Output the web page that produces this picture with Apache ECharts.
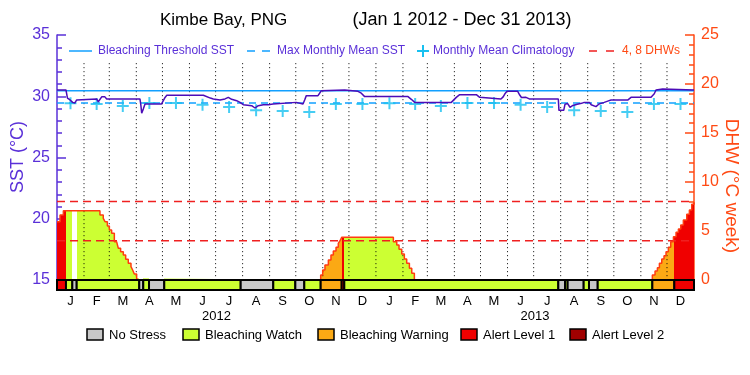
<!DOCTYPE html>
<html>
<head>
<meta charset="utf-8">
<script src="https://cdn.jsdelivr.net/npm/echarts@6/dist/echarts.min.js"></script>
<style>
html, body {margin: 0; padding: 0; background: #fff;}
#main {width: 750px; height: 375px;}
</style>
</head>
<body>
<div id="main"></div>
<script>
// x axis is days since Jan 1 2012 (731 days to Dec 31 2013)
var monthLetters = ['J', 'F', 'M', 'A', 'M', 'J', 'J', 'A', 'S', 'O', 'N', 'D'];
var monthLen2012 = [31, 29, 31, 30, 31, 30, 31, 31, 30, 31, 30, 31];
var monthLen2013 = [31, 28, 31, 30, 31, 30, 31, 31, 30, 31, 30, 31];
var years = ['2012', '2013'];

var mmm = 29.45;            // max monthly mean
var bleachThreshold = 30.45; // mmm + 1
var dhwLevels = [4, 8];

// monthly mean climatology (same each year)
var climatology = [29.42, 29.36, 29.2, 29.45, 29.45, 29.3, 29.12, 28.85, 28.8, 28.72, 29.37, 29.37];

// SST [day, degC]
var sst = [
    [0, 30.51], [10.3, 30.51], [12, 29.85], [15, 29.7], [18, 29.5], [20.5, 29.45], [22.6, 29.7], [24, 29.78],
    [45.5, 29.78], [47.4, 29.55], [49.3, 29.7], [51.3, 29.95], [55, 29.95], [57, 29.78], [95.2, 29.78],
    [96.2, 29.3], [97.2, 28.62], [99, 28.95], [101, 29.37], [120, 29.37], [124, 29.9], [126, 30.08],
    [168, 30.08], [170, 29.95], [176, 29.85], [179.4, 29.78], [181.3, 29.64], [187, 29.69], [192.8, 29.78],
    [196.6, 29.91], [200.4, 29.75], [206.2, 29.64], [210, 29.5], [213.8, 29.31], [223.4, 29.23], [227.2, 29.04],
    [231, 29.23], [236.8, 29.31], [242.5, 29.31], [247.9, 29.37], [249.8, 29.5], [274.6, 29.5], [276.6, 29.37],
    [282.3, 29.37], [284.2, 29.69], [286.1, 30.05], [299.5, 30.05], [301.4, 30.18], [303.3, 30.45], [305.3, 30.51],
    [330.1, 30.51], [332, 30.4], [345.4, 30.4], [349.2, 30.25], [353.1, 29.97], [402.8, 29.97], [406.6, 29.75],
    [410.5, 29.5], [452.5, 29.5], [454.4, 29.64], [458.2, 29.91], [462.1, 30.13], [481.2, 30.13], [485.1, 29.91],
    [487, 29.78], [509.5, 29.78], [512, 29.95], [514, 30.2], [516.4, 30.4], [528.7, 30.4], [531, 30.1],
    [533, 29.9], [534.4, 29.78], [538.2, 29.91], [542, 29.78], [575.3, 29.78], [576, 28.85], [581.5, 28.85],
    [583, 29.35], [586, 29.4], [588.7, 29.1], [592, 29.25], [597, 29.35], [602, 29.42], [605, 29.5], [611, 29.5],
    [613, 29.31], [618.5, 29.15], [622, 29.37], [628, 29.5], [632, 29.6], [635.8, 29.69], [654.9, 29.69],
    [658.7, 29.91], [660.6, 30.05], [662.5, 29.91], [681.7, 29.91], [685.4, 30.2], [687.4, 30.51], [689.3, 30.59],
    [695, 30.59], [697, 30.51], [731, 30.51]
];

// degree heating weeks [day, degC-week], held until next point
var dhw = [
    [0, 5.95], [3.5, 6.63], [7.3, 7.07], [49.3, 6.63], [53.1, 6.29], [55.1, 5.95], [57.8, 5.51], [60.1, 5.1],
    [62.7, 4.76], [65.8, 3.91], [68.4, 3.74], [70.4, 3.23], [73, 2.89], [76.1, 2.55], [78.8, 2.11], [81.8, 1.7],
    [84.9, 1.36], [86.8, 1.02], [88.7, 0.61], [91.4, 0.17], [92.6, 0],
    [302.6, 0.51], [304.9, 1.02], [307.5, 1.53], [311.4, 2.04], [314.4, 2.55], [317.1, 2.96], [320.2, 3.33],
    [322.8, 3.74], [324.8, 4.01], [326.7, 4.36], [386, 3.91], [389.9, 3.57], [392.5, 3.13], [395.6, 2.65],
    [398.6, 2.14], [401.3, 1.7], [404.4, 1.19], [407.1, 0.68], [410.1, 0],
    [683.2, 0.51], [686.3, 0.92], [689, 1.26], [691.3, 1.7], [694, 2.14], [696.6, 2.48], [698.9, 2.89],
    [701.6, 3.33], [704.3, 3.91], [707.4, 4.42], [710.4, 4.86], [713.1, 5.2], [715.8, 5.61], [718.8, 6.12],
    [722.7, 6.7], [725.7, 7.14], [728.4, 7.72], [731, 7.93]
];

// stress level periods [startDay, endDay, level]
var stress = [
    [0, 10.3, 3], [10.3, 17.6, 1], [17.6, 22.6, 0], [22.6, 94.4, 1], [94.4, 99, 0], [99, 105.6, 1],
    [105.6, 123.1, 0], [123.1, 210.8, 1], [210.8, 248.2, 0], [248.2, 273.5, 1], [273.5, 283.8, 0],
    [283.8, 302.6, 1], [302.6, 326.7, 2], [326.7, 329.7, 3], [329.7, 575.3, 1], [575.3, 583, 0],
    [583, 586, 1], [586, 604.4, 0], [604.4, 610.5, 1], [610.5, 620.5, 0], [620.5, 683.2, 1],
    [683.2, 708.4, 2], [708.4, 731, 3]
];
var stressNames = ['No Stress', 'Bleaching Watch', 'Bleaching Warning', 'Alert Level 1', 'Alert Level 2'];
var stressColors = ['#c8c8c8', '#ccff33', '#fba914', '#f00000', '#a00000'];

var purple = '#5a30d8';
var sstColor = '#4c0cb8';
var orange = '#ff4a14';
var font = 'Liberation Sans, Arial, sans-serif';

// month boundaries and centres
var monthStarts = [], monthMids = [], monthLabel = {};
var d = 0;
monthLen2012.concat(monthLen2013).forEach(function (len, i) {
    monthStarts.push(d);
    monthMids.push(d + len / 2);
    monthLabel[d + len / 2] = monthLetters[i % 12];
    d += len;
});
var yearMids = [366 / 2, 366 + 365 / 2];
var yearLabel = {};
yearLabel[yearMids[0]] = years[0];
yearLabel[yearMids[1]] = years[1];

// climatology crosses at mid-month
var climPoints = monthMids.map(function (m, i) {
    return [m, climatology[i % 12]];
});

// fill colours follow the stress level; no stress is left white
var pieces = stress.map(function (s) {
    return {gte: s[0], lt: s[1], color: s[2] === 0 ? '#ffffff' : stressColors[s[2]]};
});
pieces[pieces.length - 1].lte = 731;
delete pieces[pieces.length - 1].lt;

// split DHW into the runs above zero, one outline each
var dhwRuns = [];
var run = null;
dhw.forEach(function (p, i) {
    if (!run) {
        run = [];
        if (i > 0) run.push([p[0], 0]);
    }
    run.push(p);
    if (p[1] === 0) {
        dhwRuns.push(run);
        run = null;
    }
});
if (run) dhwRuns.push(run);

var chart = echarts.init(document.getElementById('main'));

var plusPath = 'path://M5,0h2v5h5v2h-5v5h-2v-5h-5v-2h5z';

var legendTop = [];
// legend inside the plot
legendTop.push({type: 'line', shape: {x1: 69, y1: 51, x2: 92, y2: 51}, style: {stroke: '#12a0ff', lineWidth: 1.5}});
legendTop.push({type: 'text', x: 98, y: 51, style: {text: 'Bleaching Threshold SST', fill: purple, font: '12px ' + font, verticalAlign: 'middle'}});
legendTop.push({type: 'line', shape: {x1: 247, y1: 51, x2: 270, y2: 51}, style: {stroke: '#12a0ff', lineWidth: 1.5, lineDash: [8, 7]}});
legendTop.push({type: 'text', x: 277, y: 51, style: {text: 'Max Monthly Mean SST', fill: purple, font: '12px ' + font, verticalAlign: 'middle'}});
legendTop.push({type: 'rect', shape: {x: 417, y: 50, width: 12, height: 2}, style: {fill: '#18c0f0'}});
legendTop.push({type: 'rect', shape: {x: 422, y: 45, width: 2, height: 12}, style: {fill: '#18c0f0'}});
legendTop.push({type: 'text', x: 433, y: 51, style: {text: 'Monthly Mean Climatology', fill: purple, font: '12px ' + font, verticalAlign: 'middle'}});
legendTop.push({type: 'line', shape: {x1: 589, y1: 51, x2: 614, y2: 51}, style: {stroke: '#f02020', lineWidth: 1.5, lineDash: [8, 9]}});
legendTop.push({type: 'text', x: 622, y: 51, style: {text: '4, 8 DHWs', fill: orange, font: '12px ' + font, verticalAlign: 'middle'}});

// stress legend below
var boxX = [87, 183, 318, 461, 570];
stressNames.forEach(function (n, i) {
    legendTop.push({type: 'rect', shape: {x: boxX[i], y: 329, width: 16, height: 11}, style: {fill: stressColors[i], stroke: '#000', lineWidth: 1.5}});
    legendTop.push({type: 'text', x: boxX[i] + 22, y: 335, style: {text: n, fill: '#000', font: '13px ' + font, verticalAlign: 'middle'}});
});

// titles
legendTop.push({type: 'text', x: 160, y: 20, style: {text: 'Kimbe Bay, PNG', fill: '#000', font: '17px ' + font, verticalAlign: 'middle'}});
legendTop.push({type: 'text', x: 462, y: 20, style: {text: '(Jan 1 2012 - Dec 31 2013)', fill: '#000', font: '18px ' + font, align: 'center', verticalAlign: 'middle'}});
legendTop.push({type: 'text', x: 18, y: 157, rotation: Math.PI / 2, style: {text: 'SST (\u00b0C)', fill: purple, font: '18px ' + font, align: 'center', verticalAlign: 'middle'}});
legendTop.push({type: 'text', x: 731, y: 186, rotation: -Math.PI / 2, style: {text: 'DHW (\u00b0C week)', fill: orange, font: '19px ' + font, align: 'center', verticalAlign: 'middle'}});

var seriesList = [
    {
        // DHW area, coloured by stress level
        type: 'line', xAxisIndex: 0, yAxisIndex: 1, data: dhw, step: 'end',
        symbol: 'none', lineStyle: {width: 0, opacity: 0}, areaStyle: {opacity: 1}, z: 1, silent: true
    },
    {
        type: 'custom', xAxisIndex: 0, yAxisIndex: 0, z: 3, silent: true,
        data: monthStarts.slice(1).map(function (m) { return [m]; }),
        encode: {x: 0},
        renderItem: function (params, api) {
            var a = api.coord([api.value(0), 32.7]);
            var b = api.coord([api.value(0), 15]);
            return {type: 'line', shape: {x1: a[0], y1: a[1], x2: b[0], y2: b[1]}, style: {stroke: '#000', lineWidth: 1, lineDash: [1, 3]}};
        }
    },
    {
        type: 'line', xAxisIndex: 0, yAxisIndex: 1, symbol: 'none', z: 3, silent: true,
        data: [[0, dhwLevels[0]], [731, dhwLevels[0]]],
        lineStyle: {color: '#f02020', width: 1.5, type: [8, 5]}
    },
    {
        type: 'line', xAxisIndex: 0, yAxisIndex: 1, symbol: 'none', z: 3, silent: true,
        data: [[0, dhwLevels[1]], [731, dhwLevels[1]]],
        lineStyle: {color: '#f02020', width: 1.5, type: [8, 5]}
    },
    {
        type: 'line', xAxisIndex: 0, yAxisIndex: 0, symbol: 'none', z: 4, silent: true,
        data: [[0, mmm], [731, mmm]],
        lineStyle: {color: '#12a0ff', width: 1.5, type: [7, 5]}
    },
    {
        type: 'line', xAxisIndex: 0, yAxisIndex: 0, symbol: 'none', z: 4, silent: true,
        data: [[0, bleachThreshold], [731, bleachThreshold]],
        lineStyle: {color: '#12a0ff', width: 1.5}
    },
    {
        type: 'scatter', xAxisIndex: 0, yAxisIndex: 0, data: climPoints, z: 5, silent: true,
        symbol: plusPath, symbolSize: 12, itemStyle: {color: '#18c0f0'}
    },
    {
        type: 'line', xAxisIndex: 0, yAxisIndex: 0, data: sst, symbol: 'none', z: 6, silent: true,
        lineStyle: {color: sstColor, width: 1.5}
    },
    {
        // stress level bar
        type: 'custom', xAxisIndex: 1, yAxisIndex: 2, data: stress, z: 7, silent: true,
        encode: {x: [0, 1]},
        renderItem: function (params, api) {
            var p0 = api.coord([api.value(0), 1]);
            var p1 = api.coord([api.value(1), 0]);
            return {
                type: 'rect',
                shape: {x: p0[0], y: p0[1], width: p1[0] - p0[0], height: p1[1] - p0[1]},
                style: {fill: stressColors[api.value(2)], stroke: '#000', lineWidth: 2}
            };
        }
    }
];

// DHW outlines
dhwRuns.forEach(function (r) {
    seriesList.push({
        type: 'line', xAxisIndex: 0, yAxisIndex: 1, data: r, step: 'end',
        symbol: 'none', lineStyle: {color: '#ff3c10', width: 1.5}, z: 4, silent: true
    });
});

option = {
    animation: false,
    backgroundColor: '#fff',
    textStyle: {fontFamily: font},
    grid: [
        {left: 57, right: 56, top: 35, height: 245},
        {left: 57, right: 56, top: 280, height: 10}
    ],
    visualMap: {
        type: 'piecewise',
        show: false,
        dimension: 0,
        seriesIndex: 0,
        pieces: pieces
    },
    xAxis: [
        {
            gridIndex: 0, type: 'value', min: 0, max: 731, position: 'top',
            axisLine: {lineStyle: {color: '#000', width: 1.5}},
            axisTick: {show: false}, axisLabel: {show: false}, splitLine: {show: false}
        },
        {
            gridIndex: 1, type: 'value', min: 0, max: 731, position: 'bottom',
            axisLine: {show: false}, axisTick: {show: false}, splitLine: {show: false},
            axisLabel: {
                customValues: monthMids, color: '#000', fontSize: 13, margin: 5,
                formatter: function (v) { return monthLabel[v] || ''; }
            }
        },
        {
            gridIndex: 1, type: 'value', min: 0, max: 731, position: 'bottom', offset: 15,
            axisLine: {show: false}, axisTick: {show: false}, splitLine: {show: false},
            axisLabel: {
                customValues: yearMids, color: '#000', fontSize: 13, margin: 5,
                formatter: function (v) { return yearLabel[v] || ''; }
            }
        }
    ],
    yAxis: [
        {
            gridIndex: 0, type: 'value', min: 15, max: 35, interval: 5, position: 'left',
            axisLine: {show: true, lineStyle: {color: purple, width: 1.5}},
            axisTick: {show: true, inside: true, length: 9, lineStyle: {color: purple, width: 1.5}},
            minorTick: {show: true, splitNumber: 5, length: 5, lineStyle: {color: purple, width: 1.5}},
            axisLabel: {color: purple, fontSize: 16, margin: 7},
            splitLine: {show: false}
        },
        {
            gridIndex: 0, type: 'value', min: 0, max: 25, interval: 5, position: 'right',
            axisLine: {show: true, lineStyle: {color: orange, width: 1.5}},
            axisTick: {show: true, inside: true, length: 9, lineStyle: {color: orange, width: 1.5}},
            minorTick: {show: true, splitNumber: 5, length: 5, lineStyle: {color: orange, width: 1.5}},
            axisLabel: {color: orange, fontSize: 16, margin: 7},
            splitLine: {show: false}
        },
        {gridIndex: 1, type: 'value', min: 0, max: 1, show: false}
    ],
    graphic: legendTop,
    series: seriesList
};

chart.setOption(option);
</script>
</body>
</html>
